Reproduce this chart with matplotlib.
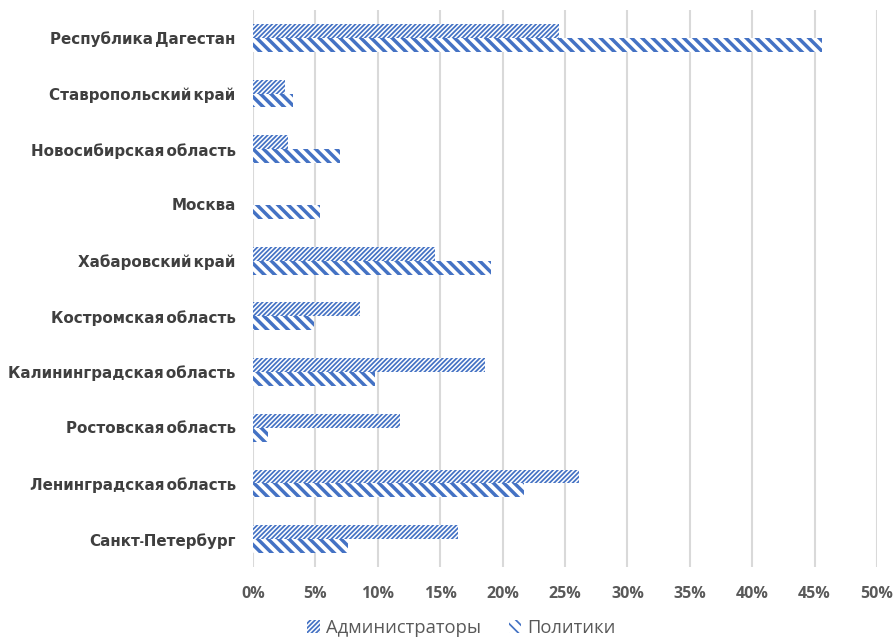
import numpy as np
import matplotlib
matplotlib.use("Agg")
import matplotlib.pyplot as plt
from matplotlib.patches import Patch
from matplotlib import font_manager as fm

# регионы сверху вниз
regions = ["Республика Дагестан", "Ставропольский край", "Новосибирская область",
           "Москва", "Хабаровский край", "Костромская область",
           "Калининградская область", "Ростовская область",
           "Ленинградская область", "Санкт-Петербург"]
admins = [24.5, 2.6, 2.8, 0.0, 14.6, 8.6, 18.6, 11.8, 26.1, 16.4]
politics = [45.6, 3.2, 7.0, 5.4, 19.1, 4.9, 9.8, 1.2, 21.7, 7.6]
xticks = [0, 5, 10, 15, 20, 25, 30, 35, 40, 45, 50]

blue = "#4472C4"
grey = "#595959"

# узкий жирный шрифт, если есть
narrow = None
for f in fm.fontManager.ttflist:
    if ("Narrow" in f.name or "Condensed" in f.name) and f.weight in ("bold", 700):
        narrow = f.name
        break
if narrow:
    lab_font = {"family": [narrow, "DejaVu Sans"], "size": 8.7}
else:
    lab_font = {"family": ["Liberation Sans", "DejaVu Sans"], "size": 9.4}

fig = plt.figure(figsize=(7.168, 5.096), dpi=125)
ax = fig.add_axes([0.2824, 0.1099, 0.6964, 0.8744])

y = np.arange(len(regions))[::-1]
h = 0.25

hatch_a = "/" * 9
hatch_p = "\\" * 4
b1 = ax.barh(y + h / 2, admins, height=h, color="white", edgecolor=blue,
             linewidth=0, hatch=hatch_a, zorder=3)
b2 = ax.barh(y - h / 2, politics, height=h, color="white", edgecolor=blue,
             linewidth=0, hatch=hatch_p, zorder=3)
for p in b1:
    if hasattr(p, "set_hatch_linewidth"):
        p.set_hatch_linewidth(1.0)
for p in b2:
    if hasattr(p, "set_hatch_linewidth"):
        p.set_hatch_linewidth(2.0)

ax.set_xlim(0, 50)
ax.set_ylim(-0.5, len(regions) - 0.5)
ax.set_xticks(xticks)
ax.set_xticklabels([f"{v}%" for v in xticks], fontsize=9.2, color=grey,
                   fontweight="bold", family="Open Sans")
ax.set_yticks(y)
ax.set_yticklabels(regions, color="#3F3F3F", fontweight="bold", **lab_font)
ax.tick_params(axis="y", length=0, pad=10)
ax.tick_params(axis="x", length=0, pad=11)
ax.grid(axis="x", color="#D9D9D9", linewidth=1.2, zorder=0)
for s in ax.spines.values():
    s.set_visible(False)

h1 = Patch(facecolor="white", edgecolor=blue, linewidth=0, hatch=hatch_a)
h2 = Patch(facecolor="white", edgecolor=blue, linewidth=0, hatch=hatch_p)
fig.legend([h1, h2], ["Администраторы", "Политики"], loc="center",
           bbox_to_anchor=(0.515, 0.014), ncol=2, frameon=False,
           prop={"family": "Open Sans", "size": 10.6}, labelcolor=grey,
           handlelength=0.7, handleheight=0.7, handletextpad=0.3,
           columnspacing=1.5)

fig.savefig("out.png", dpi=125)
